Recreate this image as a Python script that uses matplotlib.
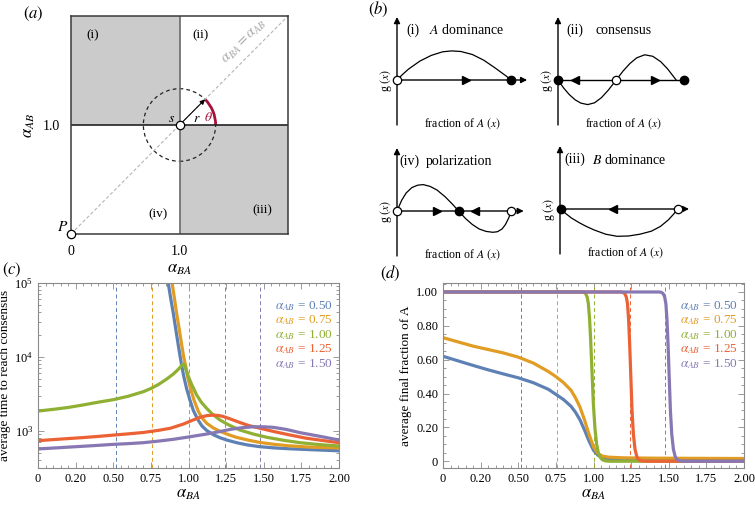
import numpy as np
import matplotlib
matplotlib.use('Agg')
import matplotlib.pyplot as plt
from matplotlib.patches import Rectangle, Circle, Arc
from matplotlib.ticker import MultipleLocator, FixedLocator, LogLocator, NullFormatter

plt.rcParams['font.family'] = ['Liberation Serif', 'DejaVu Serif']
plt.rcParams['mathtext.fontset'] = 'stix'

# ---------------- data ----------------
alpha_ab = ['0.50', '0.75', '1.00', '1.25', '1.50']
colors = ['#5E81B5', '#E19C24', '#8FB032', '#EB6235', '#8778B3']
crit_lines = [0.52, 0.76, 1.00, 1.24, 1.475]
xtick_vals = [0, 0.25, 0.5, 0.75, 1.0, 1.25, 1.5, 1.75, 2.0]
xtick_labels = ['0', '0.20', '0.50', '0.75', '1.00', '1.25', '1.50', '1.75', '2.00']

# (c) average time to reach consensus
c_x = [
    [0.84, 0.862, 0.88, 0.899, 0.915, 0.932, 0.945, 0.955, 0.97, 0.988, 1.01, 1.032, 1.06, 1.088,
     1.12, 1.165, 1.21, 1.254, 1.32, 1.387, 1.47, 1.564, 1.67, 1.785, 1.9, 2.0],
    [0.865, 0.888, 0.905, 0.921, 0.938, 0.955, 0.968, 0.981, 0.995, 1.014, 1.037, 1.065, 1.09, 1.121,
     1.165, 1.209, 1.26, 1.32, 1.4, 1.475, 1.57, 1.674, 1.8, 1.9, 2.0],
    [0, 0.1, 0.2, 0.3, 0.4, 0.5, 0.6, 0.7, 0.75, 0.8, 0.85, 0.9, 0.935, 0.955, 0.966, 0.975, 0.985,
     1.0, 1.02, 1.054, 1.085, 1.121, 1.16, 1.209, 1.27, 1.342, 1.43, 1.52, 1.63, 1.741, 1.87, 2.0],
    [0, 0.1, 0.2, 0.3, 0.4, 0.5, 0.6, 0.7, 0.8, 0.88, 0.966, 1.02, 1.076, 1.12, 1.165, 1.2, 1.231,
     1.28, 1.342, 1.4, 1.475, 1.57, 1.674, 1.78, 1.9, 2.0],
    [0, 0.1, 0.2, 0.3, 0.4, 0.5, 0.6, 0.7, 0.8, 0.899, 1.0, 1.121, 1.2, 1.276, 1.35, 1.43, 1.5,
     1.564, 1.65, 1.741, 1.87, 2.0],
]
c_y = [
    [2.0e5, 1.1e5, 6.5e4, 3.9e4, 2.4e4, 1.45e4, 1.0e4, 7.6e3, 5.3e3, 3.7e3, 2.6e3, 1.9e3, 1.45e3, 1.18e3,
     1.02e3, 890, 810, 755, 695, 650, 615, 592, 575, 562, 550, 540],
    [2.0e5, 1.1e5, 6.5e4, 3.9e4, 2.4e4, 1.45e4, 1.0e4, 7.6e3, 5.3e3, 3.7e3, 2.6e3, 1.85e3, 1.5e3, 1.27e3,
     1.1e3, 990, 900, 820, 750, 700, 660, 630, 607, 597, 590],
    [1860, 1960, 2080, 2250, 2450, 2650, 2950, 3400, 3750, 4250, 4950, 5900, 6900, 7700, 8000, 7600, 6600,
     5400, 4300, 3070, 2450, 2020, 1680, 1410, 1200, 1030, 910, 822, 750, 695, 655, 627],
    [740, 765, 790, 815, 845, 880, 915, 955, 1020, 1090, 1240, 1380, 1530, 1610, 1640, 1620, 1570,
     1450, 1300, 1185, 1090, 980, 883, 800, 740, 695],
    [572, 588, 605, 622, 640, 660, 675, 695, 730, 772, 830, 910, 975, 1050, 1105, 1140, 1140,
     1120, 1050, 950, 850, 755],
]

# (d) average final fraction of A
d_x = [
    [0, 0.1, 0.2, 0.3, 0.4, 0.5, 0.6, 0.7, 0.75, 0.8, 0.85, 0.88, 0.91, 0.94, 0.97, 1.0, 1.03, 1.06,
     1.1, 1.2, 2.0],
    [0, 0.1, 0.2, 0.3, 0.4, 0.5, 0.6, 0.7, 0.75, 0.8, 0.85, 0.88, 0.91, 0.94, 0.97, 1.0, 1.03, 1.06,
     1.1, 1.2, 1.4, 2.0],
    [0, 0.92, 0.935, 0.948, 0.958, 0.966, 0.974, 0.981, 0.99, 0.999, 1.01, 1.021, 1.032, 1.045, 1.06,
     1.08, 1.11, 2.0],
    [0, 1.18, 1.195, 1.208, 1.218, 1.226, 1.233, 1.24, 1.248, 1.256, 1.265, 1.276, 1.288, 1.3, 1.32,
     1.35, 2.0],
    [0, 1.435, 1.45, 1.463, 1.473, 1.481, 1.488, 1.495, 1.503, 1.511, 1.52, 1.531, 1.543, 1.555, 1.575,
     1.6, 2.0],
]
d_y = [
    [0.62, 0.593, 0.566, 0.54, 0.516, 0.493, 0.464, 0.425, 0.395, 0.365, 0.325, 0.29, 0.245, 0.185,
     0.12, 0.065, 0.035, 0.022, 0.016, 0.013, 0.011],
    [0.73, 0.705, 0.68, 0.66, 0.64, 0.615, 0.58, 0.53, 0.5, 0.465, 0.42, 0.375, 0.32, 0.245, 0.16,
     0.085, 0.045, 0.03, 0.024, 0.02, 0.018, 0.016],
    [1, 1, 0.998, 0.99, 0.97, 0.93, 0.84, 0.72, 0.53, 0.34, 0.19, 0.1, 0.05, 0.022, 0.008, 0.002, 0, 0],
    [1, 1, 0.998, 0.99, 0.97, 0.93, 0.84, 0.7, 0.5, 0.3, 0.16, 0.07, 0.027, 0.01, 0.002, 0, 0],
    [1, 1, 0.998, 0.99, 0.97, 0.93, 0.84, 0.7, 0.5, 0.3, 0.16, 0.07, 0.027, 0.01, 0.002, 0, 0],
]

# (b) schematic g(x) curves
gi_x = [0, 0.05, 0.1, 0.2, 0.3, 0.4, 0.48, 0.56, 0.66, 0.76, 0.86, 0.95, 1.0]
gi_y = [0, 0.19, 0.36, 0.63, 0.82, 0.94, 0.97, 0.95, 0.85, 0.66, 0.4, 0.15, 0]
gii_x = [0, 0.05, 0.1, 0.15, 0.2, 0.26, 0.32, 0.38, 0.44, 0.51, 0.57, 0.63, 0.69, 0.76, 0.83, 0.9, 0.96, 1.035]
gii_y = [0, -0.27, -0.49, -0.66, -0.77, -0.82, -0.76, -0.59, -0.34, 0, 0.3, 0.55, 0.74, 0.84, 0.79, 0.61, 0.37, 0]
giv_x = [0, 0.04, 0.08, 0.13, 0.18, 0.23, 0.29, 0.35, 0.42, 0.48, 0.54, 0.6, 0.66, 0.72, 0.78, 0.84, 0.88, 0.92, 0.95, 0.98, 1.0]
giv_y = [0, 0.35, 0.6, 0.78, 0.86, 0.88, 0.82, 0.7, 0.48, 0.25, 0, -0.25, -0.45, -0.6, -0.68, -0.71, -0.69, -0.6, -0.45, -0.22, 0]
giii_x = [0, 0.05, 0.1, 0.17, 0.23, 0.3, 0.4, 0.5, 0.6, 0.7, 0.8, 0.88, 0.95, 1.0, 1.03]
giii_y = [0, -0.15, -0.3, -0.46, -0.58, -0.7, -0.84, -0.91, -0.9, -0.84, -0.74, -0.58, -0.36, -0.15, 0]

W, H = 755, 508
fig = plt.figure(figsize=(W / 100, H / 100), dpi=100)


def box(l, t, r, b):
    return [l / W, 1 - b / H, (r - l) / W, (b - t) / H]


# ---------------- (a) ----------------
ax = fig.add_axes(box(71, 16, 288, 234))
ax.set_xlim(0, 2)
ax.set_ylim(0, 2)
ax.add_patch(Rectangle((0, 1), 1, 1, fc='#cbcbcb', ec='none'))
ax.add_patch(Rectangle((1, 0), 1, 1, fc='#cbcbcb', ec='none'))
ax.plot([0, 2], [0, 2], ls=(0, (3, 2)), color='#b5b5b5', lw=0.8)
ax.axhline(1, color='#222222', lw=1.2)
ax.axvline(1, color='#6a6a6a', lw=1.2)
ax.add_patch(Circle((1, 1), 0.333, fill=False, ls=(0, (3, 2.5)), lw=0.9, ec='#222222'))
ax.add_patch(Arc((1, 1), 0.666, 0.666, theta1=0, theta2=45, color='#a8123a', lw=2))
c45 = 0.333 * np.cos(np.pi / 4)
ax.annotate('', xy=(1 + c45, 1 + c45), xytext=(1, 1),
            arrowprops=dict(arrowstyle='-|>', color='k', lw=0.8, mutation_scale=7, shrinkA=0, shrinkB=0))
ax.plot([0, 1], [0, 1], 'o', mfc='white', mec='k', ms=6, mew=0.9, clip_on=False, zorder=5)
ax.text(-0.08, 0.06, r'$P$', fontsize=11, ha='center', va='center')
ax.text(0.93, 1.06, r'$s$', fontsize=10, ha='center', va='center')
ax.text(1.16, 1.06, r'$r$', fontsize=10, ha='center', va='center')
ax.text(1.265, 1.065, r'$\theta$', fontsize=10, ha='center', va='center', color='#a8123a')
ax.text(1.6, 1.76, r'$\alpha_{BA} = \alpha_{AB}$', rotation=45, color='#aaaaaa', fontsize=10.5,
        ha='center', va='center', rotation_mode='anchor')
for lab, (tx, ty) in zip(['(i)', '(ii)', '(iv)', '(iii)'],
                         [(0.2, 1.82), (1.19, 1.82), (0.8, 0.18), (1.76, 0.22)]):
    ax.text(tx, ty, lab, fontsize=9.5, ha='center', va='center')
for s in ax.spines.values():
    s.set_color('#3a3a3a')
    s.set_linewidth(1.1)
ax.set_xticks([0, 1])
ax.set_xticklabels(['0', '1.0'])
ax.set_yticks([1])
ax.set_yticklabels(['1.0'])
ax.tick_params(length=0, labelsize=10, pad=8)
ax.set_xlabel(r'$\alpha_{BA}$', fontsize=12, labelpad=2)
ax.set_ylabel(r'$\alpha_{AB}$', fontsize=12, labelpad=4)
fig.text(33 / W, 1 - 14 / H, r'$(a)$', fontsize=12, ha='center', va='center')

# ---------------- (b) ----------------
def schematic(left, axis_py, gx, gy, open_pts, closed_pts, right_arrows, left_arrows,
              x_end, end_arrow, tag, title, tag_x, title_x):
    a = fig.add_axes(box(left, axis_py - 63, left + 137, axis_py + 45))
    a.set_xlim(0, 1.2)
    a.set_ylim(-1.5, 2.1)
    a.axis('off')
    a.annotate('', xy=(0, 2.1), xytext=(0, -1.5), annotation_clip=False,
               arrowprops=dict(arrowstyle='-|>', lw=1.0, color='k', mutation_scale=9, shrinkA=0, shrinkB=0))
    if end_arrow:
        a.annotate('', xy=(x_end, 0), xytext=(0, 0), annotation_clip=False,
                   arrowprops=dict(arrowstyle='-|>', lw=1.0, color='k', mutation_scale=9, shrinkA=0, shrinkB=0))
    else:
        a.plot([0, x_end], [0, 0], color='k', lw=1.0)
    a.plot(gx, gy, color='k', lw=0.9)
    a.plot(right_arrows, [0] * len(right_arrows), '>', color='k', ms=5.5, clip_on=False)
    a.plot(left_arrows, [0] * len(left_arrows), '<', color='k', ms=5.5, clip_on=False)
    a.plot(open_pts, [0] * len(open_pts), 'o', mfc='white', mec='k', ms=6, mew=0.9, clip_on=False, zorder=5)
    a.plot(closed_pts, [0] * len(closed_pts), 'o', color='k', ms=6, clip_on=False, zorder=5)
    a.text(tag_x, 1.65, tag, fontsize=10, ha='center', va='center')
    a.text(title_x, 1.65, title, fontsize=10, ha='center', va='center')
    a.text(0.57, -1.45, r'fraction of $A$ $(x)$', fontsize=8.5, ha='center', va='center')
    a.text(-0.1, 0, r'g $(x)$', fontsize=8.5, ha='center', va='center', rotation=90)
    return a


schematic(397, 80, gi_x, gi_y, [0], [1.0], [0.6], [], 1.14, True,
          '(i)', r'$A$ dominance', 0.14, 0.61)
schematic(558, 80, gii_x, gii_y, [0.51], [0, 1.1], [0.85], [0.15], 1.1, False,
          '(ii)', 'consensus', 0.15, 0.57)
schematic(397, 211, giv_x, giv_y, [0, 1.0], [0.54], [0.35], [0.68], 1.11, True,
          '(iv)', 'polarization', 0.105, 0.54)
schematic(560, 209, giii_x, giii_y, [1.03], [0.01], [], [0.46], 1.13, True,
          '(iii)', r'$B$ dominance', 0.13, 0.61)
fig.text(378 / W, 1 - 9 / H, r'$(b)$', fontsize=12, ha='center', va='center')


# ---------------- (c) and (d) ----------------
def style_frame(a):
    for s in a.spines.values():
        s.set_color('#8a8a8a')
        s.set_linewidth(0.8)
    a.tick_params(which='both', direction='in', top=True, right=True, colors='#8a8a8a',
                  labelcolor='k', labelsize=9, width=0.6)
    a.tick_params(which='major', length=4)
    a.tick_params(which='minor', length=2.2)
    a.set_xlim(0, 2)
    a.set_xticks(xtick_vals)
    a.set_xticklabels(xtick_labels)
    a.xaxis.set_minor_locator(MultipleLocator(0.05))
    a.set_xlabel(r'$\alpha_{BA}$', fontsize=12, labelpad=1)


def legend_text(a):
    for i, (lab, col) in enumerate(zip(alpha_ab, colors)):
        a.text(0.98, 0.876 - i * 0.078, r'$\alpha_{AB}$ = ' + lab, color=col, fontsize=9.5,
               ha='right', va='center', transform=a.transAxes)


axc = fig.add_axes(box(38, 283, 339, 468))
axc.set_yscale('log')
axc.set_ylim(10 ** 2.5, 1e5)
style_frame(axc)
axc.yaxis.set_major_locator(FixedLocator([1e3, 1e4, 1e5]))
axc.yaxis.set_minor_locator(LogLocator(base=10, subs=np.arange(2, 10)))
axc.yaxis.set_minor_formatter(NullFormatter())
for v, col in zip(crit_lines, colors):
    axc.axvline(v, color=col, ls=(0, (4, 3)), lw=0.7)
for xs, ys, col in zip(c_x, c_y, colors):
    axc.plot(xs, ys, color=col, lw=2.3, solid_joinstyle='round')
axc.set_ylabel('average time to reach consensus', fontsize=9.5, labelpad=2)
legend_text(axc)
fig.text(12 / W, 1 - 270 / H, r'$(c)$', fontsize=12, ha='center', va='center')

axd = fig.add_axes(box(443, 283, 744, 468))
axd.set_ylim(-0.04, 1.053)
style_frame(axd)
axd.set_yticks([0, 0.2, 0.4, 0.6, 0.8, 1.0])
axd.set_yticklabels(['0', '0.20', '0.40', '0.60', '0.80', '1.00'])
axd.yaxis.set_minor_locator(MultipleLocator(0.05))
for v, col in zip(crit_lines, colors):
    axd.axvline(v, color=col, ls=(0, (4, 3)), lw=0.7)
for xs, ys, col in zip(d_x, d_y, colors):
    axd.plot(xs, ys, color=col, lw=2.3, solid_joinstyle='round')
axd.set_ylabel('average final fraction of A', fontsize=9.5, labelpad=3)
legend_text(axd)
fig.text(390 / W, 1 - 273 / H, r'$(d)$', fontsize=12, ha='center', va='center')

fig.savefig('out.png', dpi=100)
